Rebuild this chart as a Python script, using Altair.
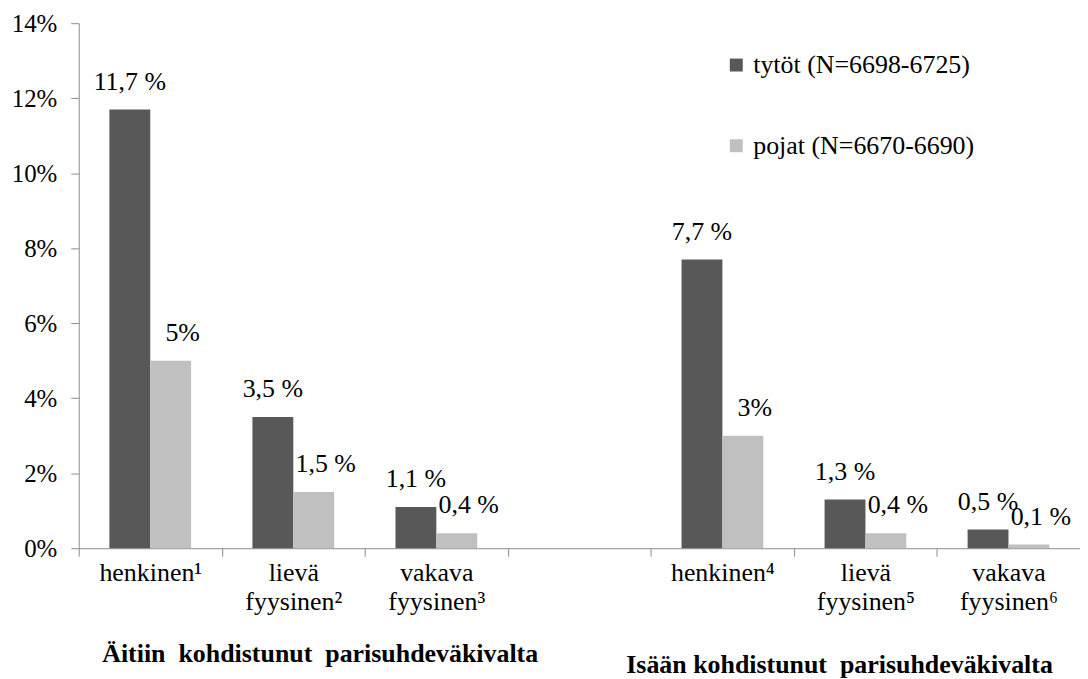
import altair as alt
import pandas as pd

categories = ["henkinen¹", "lievä\nfyysinen²", "vakava\nfyysinen³", " ",
              "henkinen⁴", "lievä\nfyysinen⁵", "vakava\nfyysinen⁶"]
series = ["tytöt (N=6698-6725)", "pojat (N=6670-6690)"]
tytot = [11.7, 3.5, 1.1, None, 7.7, 1.3, 0.5]
pojat = [5.0, 1.5, 0.4, None, 3.0, 0.4, 0.1]
tytot_labels = ["11,7 %", "3,5 %", "1,1 %", "", "7,7 %", "1,3 %", "0,5 %"]
pojat_labels = ["5%", "1,5 %", "0,4 %", "", "3%", "0,4 %", "0,1 %"]
title_cats = ["lievä\nfyysinen²", "lievä\nfyysinen⁵"]
group_titles = ["Äitiin\u00a0 kohdistunut\u00a0 parisuhdeväkivalta",
                "Isään kohdistunut\u00a0 parisuhdeväkivalta"]
y_ticks = [0, 2, 4, 6, 8, 10, 12, 14]

rows = []
for i, c in enumerate(categories):
    for s, vals, labs in ((series[0], tytot, tytot_labels), (series[1], pojat, pojat_labels)):
        if vals[i] is not None:
            rows.append({"cat": c, "series": s, "value": vals[i], "label": labs[i]})
df = pd.DataFrame(rows)
tdf = pd.DataFrame({"cat": title_cats, "title": group_titles, "idx": [0, 1]})

FONT = "'Liberation Serif', 'Times New Roman', Times, 'DejaVu Serif', serif"
FS = 26
W, H = 1005, 527

xscale = alt.Scale(domain=categories, paddingInner=0, paddingOuter=0)
xenc = alt.X("cat:N", scale=xscale, sort=categories,
             axis=alt.Axis(title=None, labelAngle=0, tickBand="extent",
                           labelExpr="split(datum.label, '\\n')",
                           labelFont=FONT, labelFontSize=FS, labelColor="black",
                           labelLineHeight=29, labelPadding=3, labelLimit=0,
                           tickSize=8, tickColor="#8c8c8c", domainColor="#8c8c8c",
                           labelOverlap=False))
yenc = alt.Y("value:Q", scale=alt.Scale(domain=[0, 14], nice=False),
             axis=alt.Axis(title=None, values=y_ticks, labelExpr="datum.value + '%'",
                           grid=False, tickSize=8, labelPadding=14,
                           labelFont=FONT, labelFontSize=25, labelColor="black",
                           tickColor="#8c8c8c", domainColor="#8c8c8c"))
xoff = alt.XOffset("series:N", scale=alt.Scale(domain=series, paddingInner=0, paddingOuter=0.75))

bars = alt.Chart(df).mark_bar().encode(
    x=xenc, y=yenc, xOffset=xoff,
    color=alt.Color("series:N",
                    scale=alt.Scale(domain=series, range=["#585858", "#c0c0c0"]),
                    legend=alt.Legend(title=None, orient="none", legendX=647, legendY=29,
                                      symbolType="square", symbolSize=169,
                                      symbolStrokeWidth=0, labelFont=FONT,
                                      labelFontSize=FS, labelColor="black", labelLimit=0,
                                      rowPadding=55, padding=0, labelOffset=4)),
)

lab_t = alt.Chart(df).transform_filter(alt.datum.series == series[0]).mark_text(
    font=FONT, fontSize=FS, color="black", baseline="alphabetic", dy=-20
).encode(x=alt.X("cat:N", scale=xscale), xOffset=xoff, y=alt.Y("value:Q"), text="label:N")

lab_p = alt.Chart(df).transform_filter(alt.datum.series == series[1]).mark_text(
    font=FONT, fontSize=FS, color="black", baseline="alphabetic", dy=-20, dx=12
).encode(x=alt.X("cat:N", scale=xscale), xOffset=xoff, y=alt.Y("value:Q"), text="label:N")

t1 = alt.Chart(tdf).transform_filter(alt.datum.idx == 0).mark_text(
    font=FONT, fontSize=FS, fontWeight="bold", color="black", baseline="alphabetic", dx=27
).encode(x=alt.X("cat:N", scale=xscale), y=alt.value(H + 114), text="title:N")

t2 = alt.Chart(tdf).transform_filter(alt.datum.idx == 1).mark_text(
    font=FONT, fontSize=FS, fontWeight="bold", color="black", baseline="alphabetic", dx=-26
).encode(x=alt.X("cat:N", scale=xscale), y=alt.value(H + 125), text="title:N")

chart = alt.layer(bars, lab_t, lab_p, t1, t2).properties(
    width=W, height=H,
    autosize=alt.AutoSizeParams(type="none"),
    padding={"left": 71, "top": 14, "right": 0, "bottom": 130},
).configure_view(stroke=None)

chart.save("out.html", embed_options={"renderer": "svg", "actions": False})
